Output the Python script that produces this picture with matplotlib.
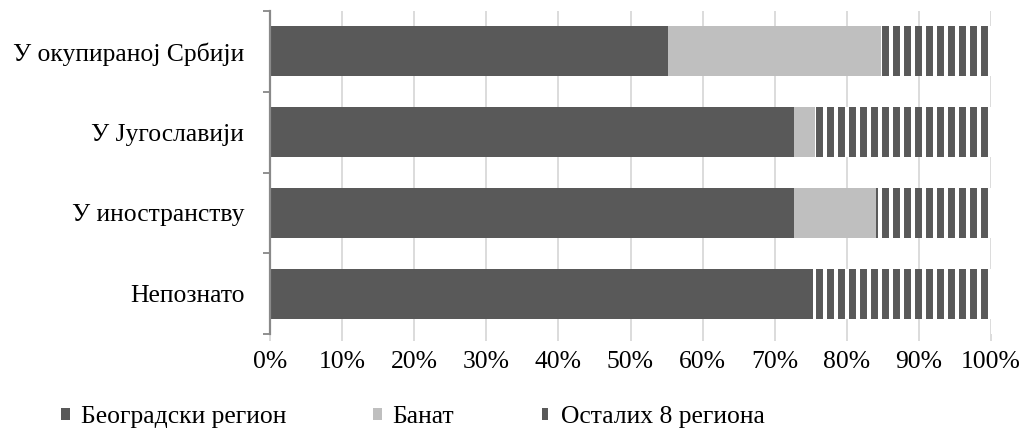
import matplotlib
matplotlib.use("Agg")
import matplotlib.pyplot as plt
import numpy as np

# categories, top to bottom
categories = ["У окупираној Србији", "У Југославији", "У иностранству", "Непознато"]
belgrade = [55.2, 72.7, 72.7, 75.3]
banat = [29.5, 2.9, 11.4, 0.0]
others = [100 - a - b for a, b in zip(belgrade, banat)]
series_names = ["Београдски регион", "Банат", "Осталих 8 региона"]
x_ticks = np.arange(0, 101, 10)
x_labels = [f"{v}%" for v in x_ticks]

dark = "#595959"
light = "#bfbfbf"

DPI = 132
FS = 14
plt.rcParams["font.family"] = ["Liberation Serif", "DejaVu Serif"]
plt.rcParams["hatch.linewidth"] = 3.8
plt.rcParams["hatch.color"] = dark

fig = plt.figure(figsize=(1033 / DPI, 430 / DPI), dpi=DPI)
ax = fig.add_axes([270 / 1033, 1 - 334 / 430, (991 - 270) / 1033, (334 - 11) / 430])

y = np.arange(len(categories))[::-1]
h = 0.62
b1 = ax.barh(y, belgrade, height=h, color=dark, linewidth=0, label=series_names[0])
b2 = ax.barh(y, banat, height=h, left=belgrade, color=light, linewidth=0,
             label=series_names[1])
left3 = [a + b for a, b in zip(belgrade, banat)]
b3 = ax.barh(y, others, height=h, left=left3, facecolor="white", edgecolor=dark,
             hatch="||", linewidth=0, label=series_names[2])

ax.set_xlim(0, 100)
ax.set_ylim(-0.5, len(categories) - 0.5)
ax.set_xticks(x_ticks)
ax.set_xticklabels(x_labels, fontsize=FS)
ax.set_yticks(y)
ax.set_yticklabels(categories, fontsize=FS)
ax.set_yticks(np.arange(-0.5, len(categories)), minor=True)

ax.tick_params(axis="y", which="major", length=0, pad=14)
ax.tick_params(axis="y", which="minor", length=4, width=1, color="#898989")
ax.tick_params(axis="x", length=4, width=1, color="#d9d9d9", pad=5)

ax.grid(axis="x", color="#d9d9d9", linewidth=1)
ax.set_axisbelow(True)
for s in ["top", "right", "bottom"]:
    ax.spines[s].set_visible(False)
ax.spines["left"].set_color("#898989")
ax.spines["left"].set_linewidth(1.2)

fig.legend(handles=[b1, b2, b3], loc="center left", bbox_to_anchor=(61 / 1033, 1 - 417 / 430),
           ncol=3, frameon=False, fontsize=FS, handlelength=0.36, handleheight=0.36,
           handletextpad=0.4, columnspacing=3.4, borderaxespad=0, borderpad=0)

fig.savefig("out.png", dpi=DPI)
